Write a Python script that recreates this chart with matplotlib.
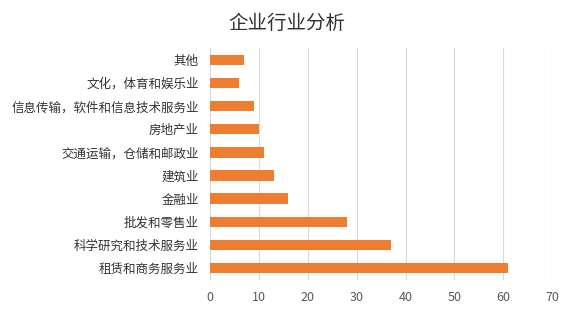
import matplotlib
matplotlib.use("Agg")
import matplotlib.pyplot as plt

plt.rcParams['font.family'] = ['Noto Sans CJK SC', 'DejaVu Sans']

categories = ["租赁和商务服务业", "科学研究和技术服务业", "批发和零售业", "金融业", "建筑业",
              "交通运输，仓储和邮政业", "房地产业", "信息传输，软件和信息技术服务业",
              "文化，体育和娱乐业", "其他"]
values = [61, 37, 28, 16, 13, 11, 10, 9, 6, 7]
xticks = [0, 10, 20, 30, 40, 50, 60, 70]

fig = plt.figure(figsize=(5.74, 3.12), dpi=100)
ax = fig.add_axes([0.366, 0.104, 0.596, 0.741])
y = list(range(len(categories)))
ax.barh(y, values, height=0.45, color="#ED7D31", zorder=3)
ax.set_yticks(y)
ax.set_yticklabels(categories, fontsize=9, color="#333333")
ax.set_ylim(-0.5, len(categories) - 0.5)
ax.set_xlim(0, 70)
ax.set_xticks(xticks)
ax.set_xticklabels([str(t) for t in xticks], fontsize=9, color="#595959")
ax.xaxis.grid(True, color="#D9D9D9", linewidth=0.8, zorder=0)
ax.tick_params(axis='both', length=0)
ax.tick_params(axis='x', pad=8)
ax.tick_params(axis='y', pad=8)
for s in ax.spines.values():
    s.set_visible(False)
fig.suptitle("企业行业分析", fontsize=14, color="#333333", y=0.96)
fig.savefig("out.png", dpi=100, facecolor="white")
